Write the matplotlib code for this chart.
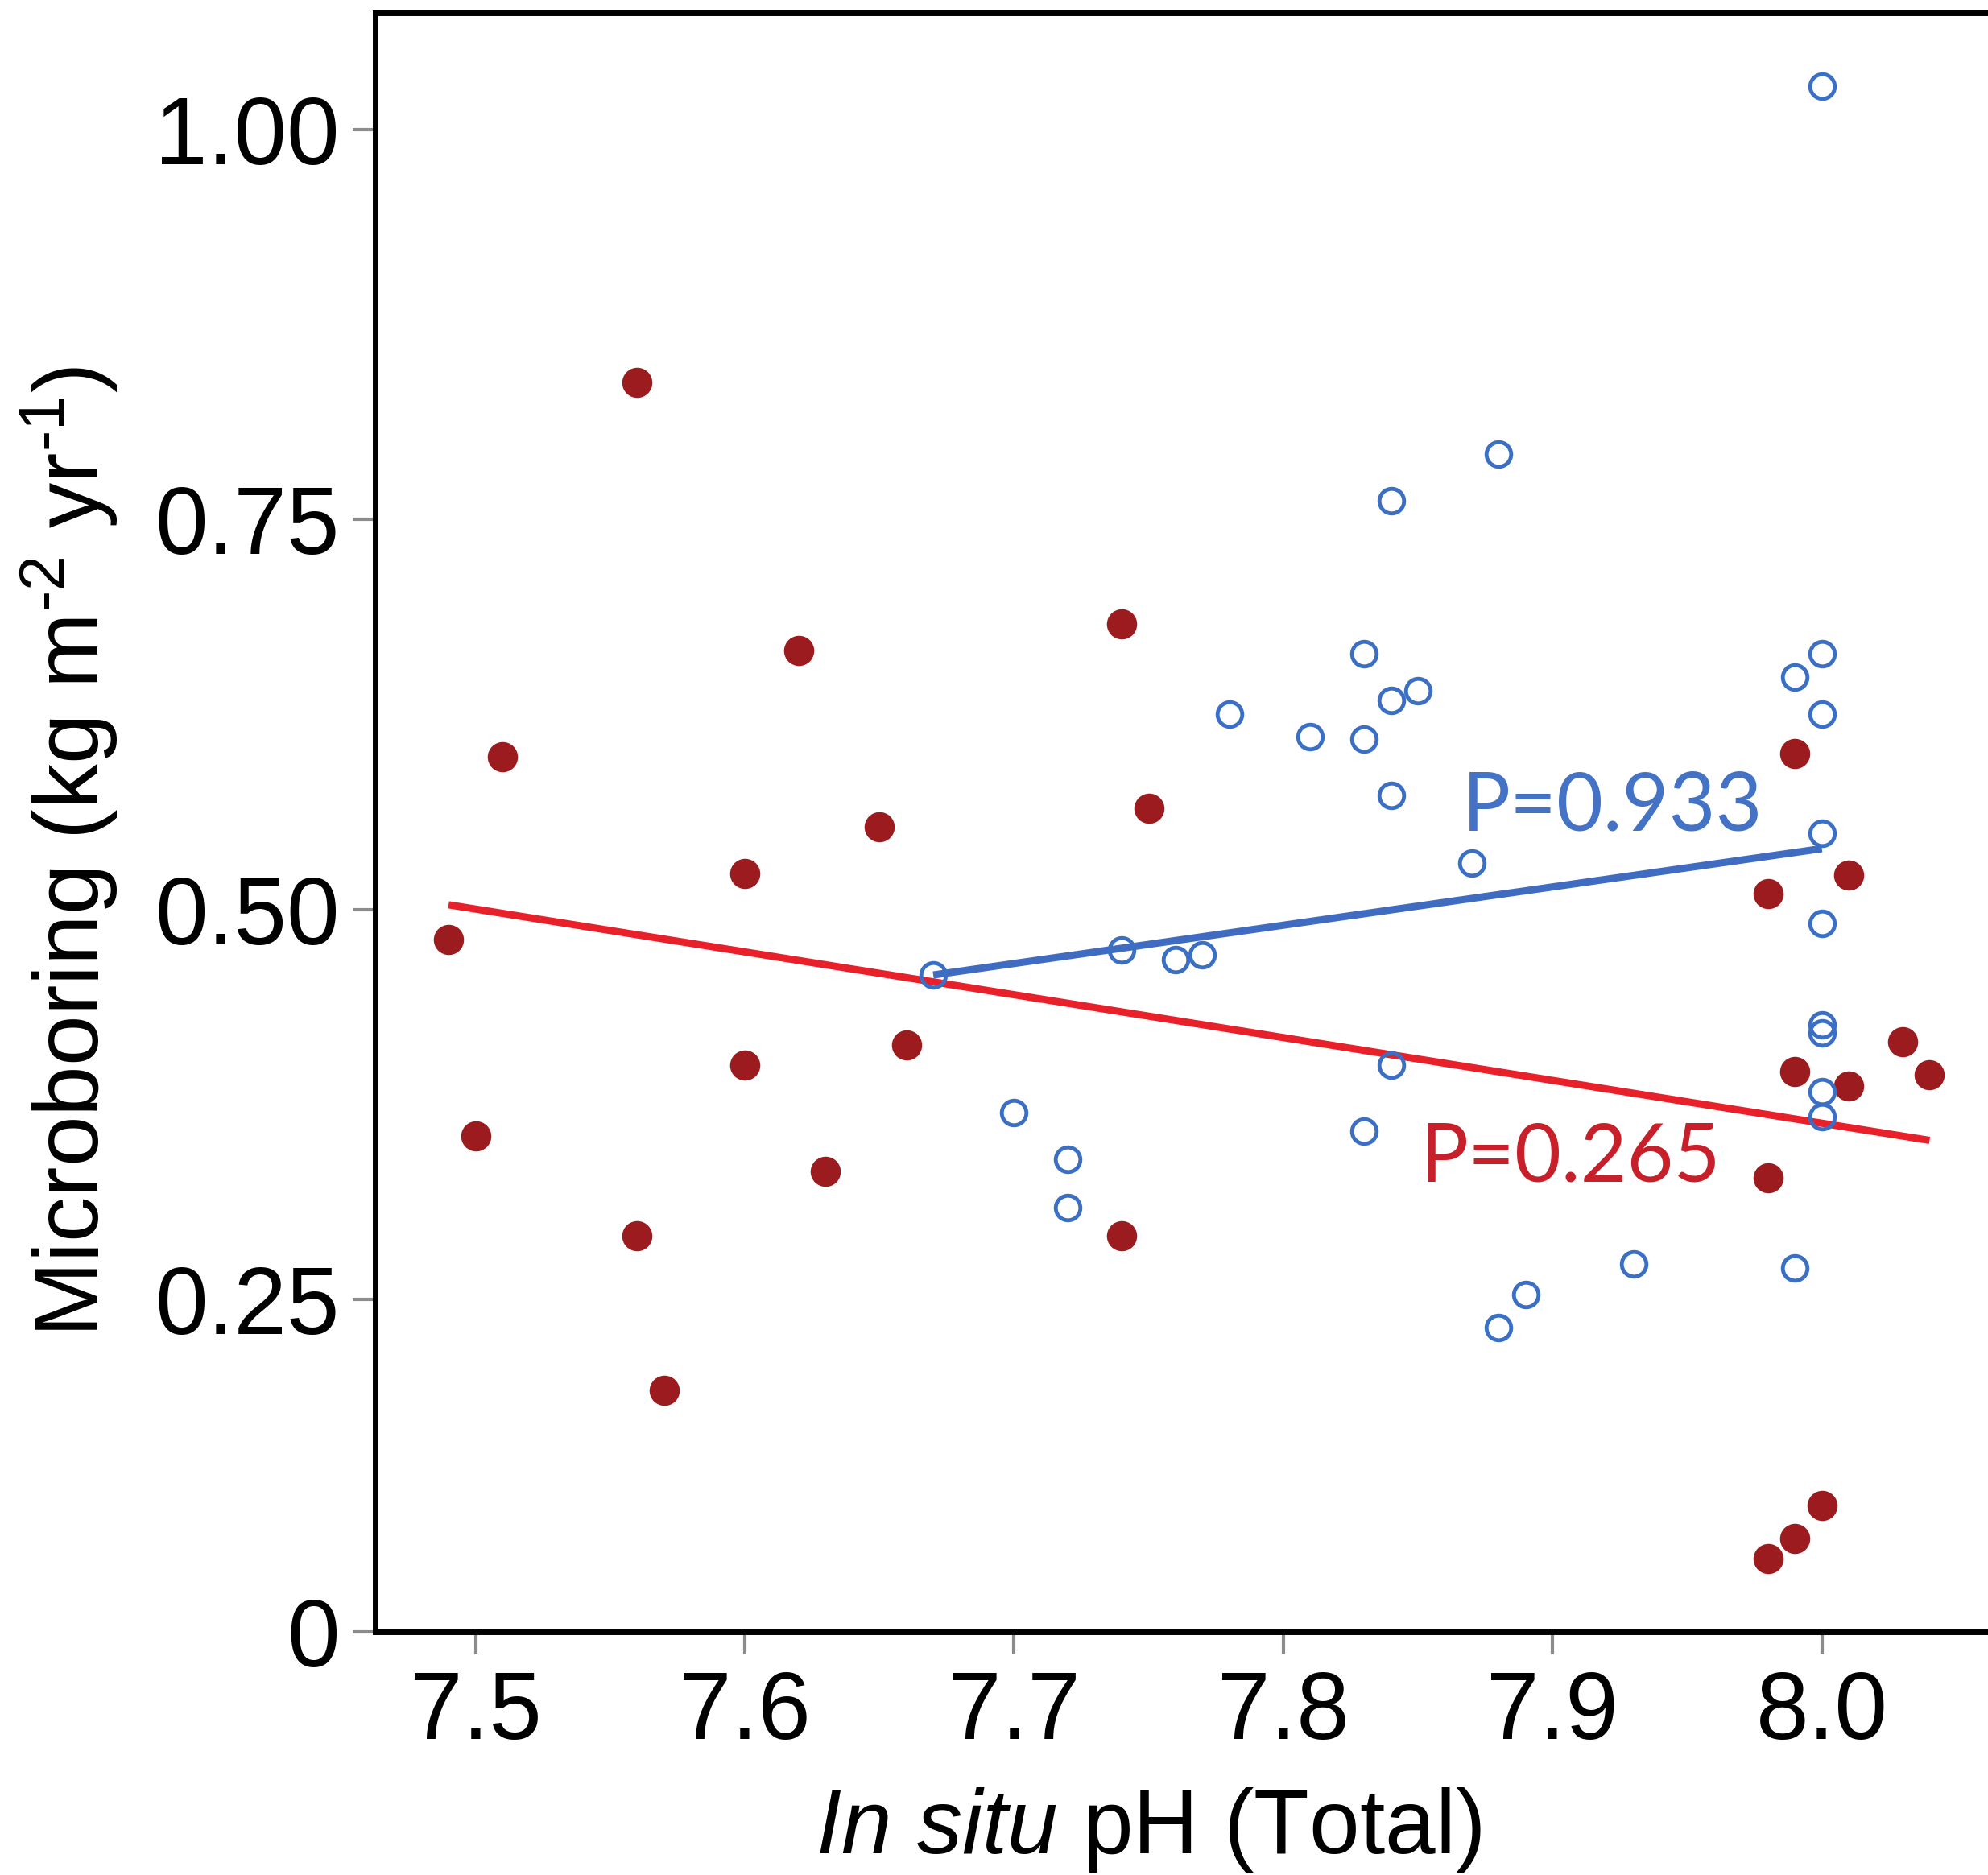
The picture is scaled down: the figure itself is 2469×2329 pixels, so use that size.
import numpy as np
import matplotlib
matplotlib.use("Agg")
import matplotlib.pyplot as plt

# microboring vs in situ pH, two groups
red_ph = [7.49, 7.50, 7.51, 7.56, 7.56, 7.57, 7.60, 7.60, 7.62, 7.63, 7.65, 7.66,
          7.74, 7.74, 7.75, 7.98, 7.98, 7.98, 7.99, 7.99, 7.99, 8.00, 8.01, 8.01, 8.03, 8.04]
red_mb = [0.481, 0.355, 0.598, 0.838, 0.291, 0.192, 0.523, 0.400, 0.666, 0.332, 0.553, 0.413,
          0.683, 0.291, 0.565, 0.510, 0.328, 0.084, 0.600, 0.396, 0.097, 0.118, 0.522, 0.387, 0.415, 0.394]

blue_ph = [7.67, 7.70, 7.72, 7.72, 7.74, 7.76, 7.77, 7.78, 7.81, 7.83, 7.83, 7.83,
           7.84, 7.84, 7.84, 7.84, 7.85, 7.87, 7.88, 7.88, 7.89, 7.93, 7.99, 7.99,
           8.00, 8.00, 8.00, 8.00, 8.00, 8.00, 8.00, 8.00, 8.00]
blue_mb = [0.458, 0.370, 0.340, 0.309, 0.474, 0.468, 0.471, 0.625, 0.611, 0.664, 0.609, 0.358,
           0.762, 0.634, 0.573, 0.400, 0.640, 0.530, 0.792, 0.232, 0.253, 0.273, 0.649, 0.270,
           1.028, 0.664, 0.625, 0.549, 0.491, 0.426, 0.421, 0.383, 0.367]

# fitted lines (end points)
red_fit_x = [7.49, 8.04]
red_fit_y = [0.503, 0.352]
blue_fit_x = [7.67, 8.00]
blue_fit_y = [0.458, 0.539]

yticks = [0.0371, 0.25, 0.50, 0.75, 1.00]
ytick_labels = ["0", "0.25", "0.50", "0.75", "1.00"]
xticks = [7.5, 7.6, 7.7, 7.8, 7.9, 8.0]
xtick_labels = ["7.5", "7.6", "7.7", "7.8", "7.9", "8.0"]

plt.rcParams['font.family'] = ['Liberation Sans', 'DejaVu Sans']
plt.rcParams['mathtext.fontset'] = 'custom'
plt.rcParams['mathtext.rm'] = 'Liberation Sans'
plt.rcParams['mathtext.it'] = 'Liberation Sans:italic'
plt.rcParams['mathtext.default'] = 'regular'

fig = plt.figure(figsize=(24.69, 23.29), dpi=100)
ax = fig.add_axes([0.1888, 0.1298, 1.0 - 0.1888, 0.9932 - 0.1298])

ax.plot(red_fit_x, red_fit_y, color='#e8202a', lw=6.5, solid_capstyle='butt', zorder=2)
ax.plot(blue_fit_x, blue_fit_y, color='#3f6cc0', lw=6.5, solid_capstyle='butt', zorder=2)

ax.plot(red_ph, red_mb, 'o', ms=27, color='#9b1b1e', mec='none', zorder=3)
ax.plot(blue_ph, blue_mb, 'o', ms=22, mfc='none', mec='#3a6fc4', mew=3.5, zorder=4)

ax.text(7.8663, 0.5507, "P=0.933", color='#4472c4', fontsize=72, family=['Lato', 'DejaVu Sans'])
ax.text(7.8508, 0.3256, "P=0.265", color='#c8202a', fontsize=72, family=['Lato', 'DejaVu Sans'])

ax.set_xlim(7.4628, 8.0617)
ax.set_ylim(0.0371, 1.0748)
ax.set_xticks(xticks)
ax.set_xticklabels(xtick_labels)
ax.set_yticks(yticks)
ax.set_yticklabels(ytick_labels)

for s in ['left', 'bottom', 'top']:
    ax.spines[s].set_linewidth(5)
    ax.spines[s].set_color('black')
ax.spines['right'].set_visible(False)

ax.tick_params(axis='both', length=20, width=3, color='#8c8c8c', labelsize=85)
ax.tick_params(axis='x', pad=14)
ax.tick_params(axis='y', pad=12)

ax.set_xlabel(r"$\mathit{In\ situ}$ pH (Total)", fontsize=81, labelpad=24, x=0.4796)
ax.set_ylabel(r"Microboring (kg m$^{\text{-}2}$ yr$^{\text{-}1}$)", fontsize=81, labelpad=31, y=0.4816)

fig.savefig("out.png", dpi=100)
